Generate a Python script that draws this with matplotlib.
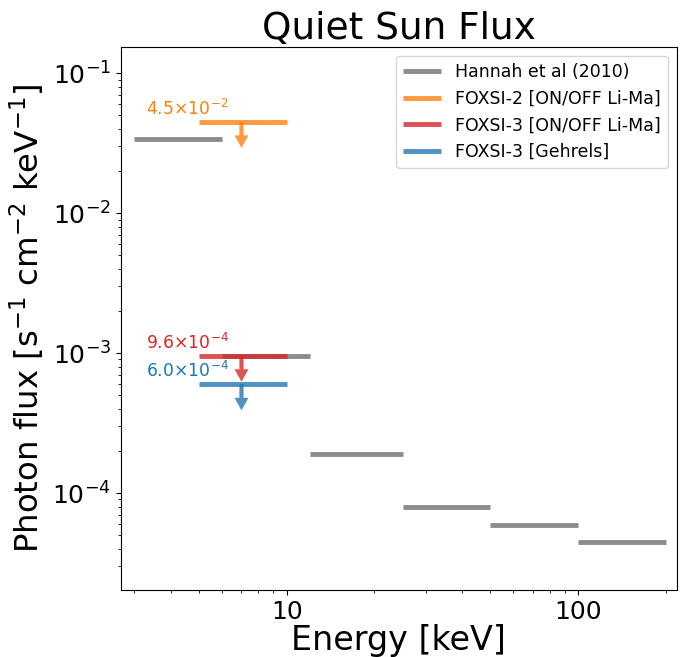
import numpy as np
import matplotlib
matplotlib.use('Agg')
import matplotlib.pyplot as plt

# Hannah et al (2010) quiet sun upper limits
hannah_lo = [3, 6, 12, 25, 50, 100]
hannah_hi = [6, 12, 25, 50, 100, 200]
hannah_flux = [3.4e-2, 9.6e-4, 1.9e-4, 8.0e-5, 5.9e-5, 4.45e-5]

# FOXSI limits (5-10 keV band)
foxsi_lo = 5
foxsi_hi = 10
foxsi_names = ['FOXSI-2 [ON/OFF Li-Ma]', 'FOXSI-3 [ON/OFF Li-Ma]', 'FOXSI-3 [Gehrels]']
foxsi_flux = [4.5e-2, 9.6e-4, 6.0e-4]
foxsi_labels = [r'4.5$\times$10$^{-2}$', r'9.6$\times$10$^{-4}$', r'6.0$\times$10$^{-4}$']
foxsi_colors = ['tab:orange', 'tab:red', 'tab:blue']
arrow_x = 7

fig = plt.figure(figsize=(6.87, 6.57), dpi=100)
ax = fig.add_axes([0.176, 0.102, 0.809, 0.826])

ax.hlines(hannah_flux, hannah_lo, hannah_hi, color='gray', lw=3.5, alpha=0.9,
          label='Hannah et al (2010)')

for name, f, lab, c in zip(foxsi_names, foxsi_flux, foxsi_labels, foxsi_colors):
    ax.hlines(f, foxsi_lo, foxsi_hi, color=c, lw=3.5, alpha=0.8, label=name)
    ax.annotate('', xy=(arrow_x, f * 0.65), xytext=(arrow_x, f),
                arrowprops=dict(arrowstyle='simple,head_width=1.0,head_length=0.9,tail_width=0.3',
                                color=c, alpha=0.8, lw=0, shrinkA=0, shrinkB=0))
    ax.text(3.3, f * 1.05, lab, color=c, fontsize=12.4, va='bottom', ha='left')

ax.set_xscale('log')
ax.set_yscale('log')
ax.set_xlim(2.7, 218)
ax.set_ylim(2.03e-5, 0.153)
ax.set_xticks([10, 100])
ax.set_xticklabels(['10', '100'])
ax.tick_params(axis='both', which='major', labelsize=18)

ax.set_title('Quiet Sun Flux', fontsize=27)
ax.set_xlabel('Energy [keV]', fontsize=24, labelpad=0)
ax.set_ylabel(r'Photon flux [s$^{-1}$ cm$^{-2}$ keV$^{-1}$]', fontsize=23.3)
ax.legend(loc='upper right', fontsize=12.5, handlelength=2.2)

plt.savefig('out.png', dpi=100)
